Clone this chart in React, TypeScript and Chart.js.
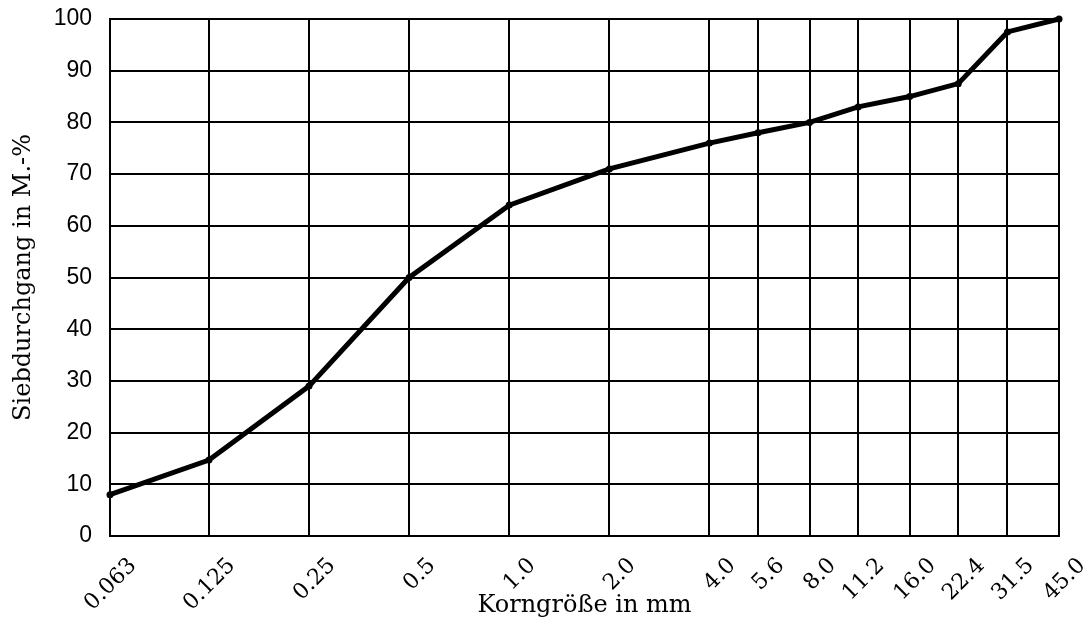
import React, { useEffect, useRef } from "react";
import { Chart, registerables } from "chart.js";

Chart.register(...registerables);

const sieveSizes = [0.063, 0.125, 0.25, 0.5, 1.0, 2.0, 4.0, 5.6, 8.0, 11.2, 16.0, 22.4, 31.5, 45.0];
const sieveLabels = ["0.063", "0.125", "0.25", "0.5", "1.0", "2.0", "4.0", "5.6", "8.0", "11.2", "16.0", "22.4", "31.5", "45.0"];
const passingPercent = [8, 14.7, 29, 50, 64, 71, 76, 78, 80, 83, 85, 87.5, 97.5, 100];
const yTicks = [0, 10, 20, 30, 40, 50, 60, 70, 80, 90, 100];
const xTitle = "Korngröße in mm";
const yTitle = "Siebdurchgang in M.-%";

export default function App() {
  const ref = useRef<HTMLCanvasElement | null>(null);
  useEffect(() => {
    if (!ref.current) return;
    const serif = "'DejaVu Serif', serif";
    const chart = new Chart(ref.current, {
      type: "line",
      data: {
        datasets: [
          {
            data: sieveSizes.map((s, i) => ({ x: s, y: passingPercent[i] })),
            borderColor: "#000",
            backgroundColor: "#000",
            borderWidth: 5,
            pointRadius: 3.5,
            pointBorderWidth: 0,
            tension: 0,
            clip: false,
          },
        ],
      },
      options: {
        animation: false,
        responsive: false,
        maintainAspectRatio: false,
        layout: { padding: { top: 19, right: 28, left: 0, bottom: 0 } },
        plugins: { legend: { display: false }, tooltip: { enabled: false } },
        scales: {
          x: {
            type: "logarithmic",
            min: sieveSizes[0],
            max: sieveSizes[sieveSizes.length - 1],
            afterBuildTicks: (scale: any) => {
              scale.ticks = sieveSizes.map((v) => ({ value: v }));
            },
            afterFit: (scale: any) => {
              scale.height = 93;
              scale.paddingLeft = 0;
              scale.paddingRight = 0;
            },
            border: { display: true, color: "#000", width: 2 },
            grid: { color: "#000", lineWidth: 2, drawTicks: false },
            ticks: {
              autoSkip: false,
              minRotation: 45,
              maxRotation: 45,
              padding: 17,
              labelOffset: 23,
              color: "#000",
              font: { family: serif, size: 22 },
              callback: (_v: any, i: number) => sieveLabels[i],
            },
            title: {
              display: true,
              text: xTitle,
              color: "#000",
              font: { family: serif, size: 24 },
              padding: { top: 0, bottom: 9 },
            },
          },
          y: {
            type: "linear",
            min: 0,
            max: 100,
            afterBuildTicks: (scale: any) => {
              scale.ticks = yTicks.map((v) => ({ value: v }));
            },
            afterFit: (scale: any) => {
              scale.width = 110;
              scale.paddingTop = 0;
              scale.paddingBottom = 0;
            },
            border: { display: true, color: "#000", width: 2 },
            grid: { color: "#000", lineWidth: 2, drawTicks: false },
            ticks: {
              padding: 18,
              color: "#000",
              font: { family: "'Liberation Sans', Arial, sans-serif", size: 23 },
            },
            title: {
              display: true,
              text: yTitle,
              color: "#000",
              font: { family: serif, size: 24 },
              padding: { top: 9, bottom: 0 },
            },
          },
        },
      },
    } as any);
    return () => chart.destroy();
  }, []);
  return (
    <div style={{ position: "absolute", left: 0, top: 0, width: 1087, height: 629, background: "#fff" }}>
      <canvas ref={ref} width={1087} height={629} style={{ width: 1087, height: 629 }} />
    </div>
  );
}
